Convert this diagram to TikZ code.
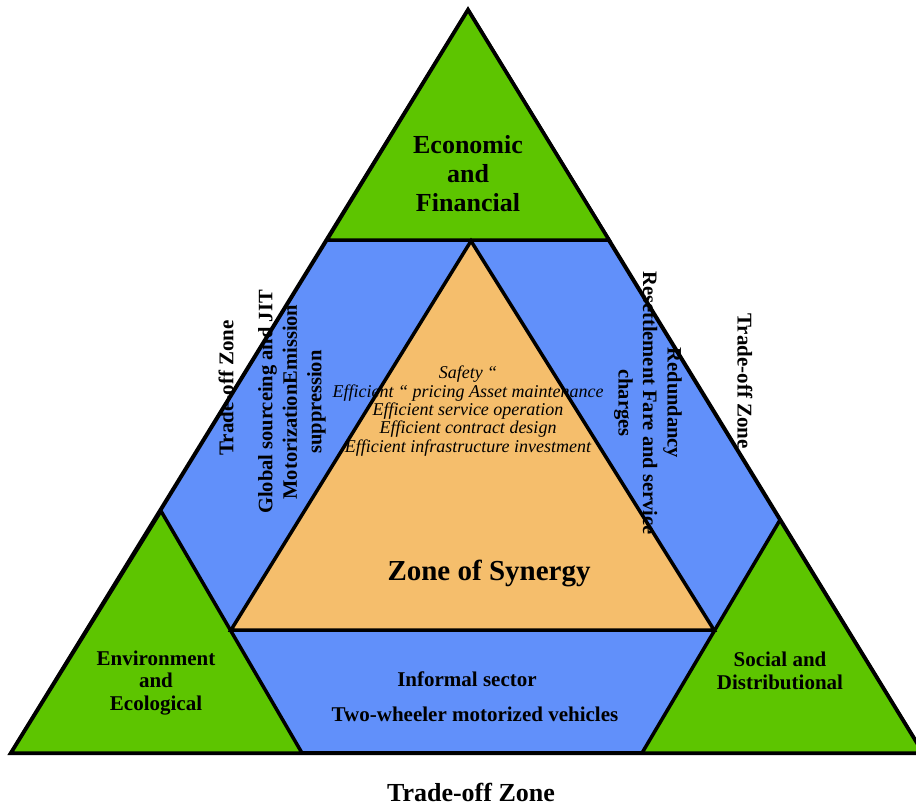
\documentclass[tikz,border=0pt]{standalone}
\usepackage{fontspec}
\setmainfont{Liberation Serif}
\usepackage{tikz}
\usetikzlibrary{positioning}
\definecolor{zonegreen}{RGB}{93,197,0}
\definecolor{zoneblue}{RGB}{97,144,250}
\definecolor{zoneorange}{RGB}{245,190,108}
\tikzstyle{zone} = [draw=black, line width=3.5pt, line join=miter]
\tikzstyle{bigtext} = [align=center, font=\bfseries\fontsize{26}{29}\selectfont]
\tikzstyle{zonetext} = [align=center, font=\bfseries\fontsize{21}{22.5}\selectfont]
\tikzstyle{sidetext} = [align=center, font=\bfseries\fontsize{20.5}{24.5}\selectfont]
\tikzstyle{listtext} = [align=center, font=\itshape\fontsize{18}{18.4}\selectfont]

\begin{document}
\begin{tikzpicture}[x=1pt,y=-1pt]
\useasboundingbox (0,0) rectangle (916,806);
% corners
\coordinate (apex) at (468,10);
\coordinate (bl) at (11,753);
\coordinate (br) at (923,753);
\coordinate (ecoL) at (327,240);
\coordinate (ecoR) at (609,240);
\coordinate (envTop) at (161,511);
\coordinate (envR) at (302,753);
\coordinate (socTop) at (780,520);
\coordinate (socL) at (642,753);
\coordinate (synTop) at (471,241);
\coordinate (synL) at (231,630);
\coordinate (synR) at (714,630);
% zones
\filldraw[zone, fill=zoneblue, line width=4pt] (apex) -- (bl) -- (br) -- cycle;
\filldraw[zone, fill=zonegreen] (apex) -- (ecoL) -- (ecoR) -- cycle;
\filldraw[zone, fill=zonegreen] (envTop) -- (bl) -- (envR) -- cycle;
\filldraw[zone, fill=zonegreen] (socTop) -- (socL) -- (br) -- cycle;
\filldraw[zone, fill=zoneorange] (synTop) -- (synL) -- (synR) -- cycle;
% labels
\node [bigtext] (eco) at (468,174) {Economic\\and\\Financial};
\node [zonetext] (env) at (156,683) {Environment\\and\\Ecological};
\node [zonetext] (soc) at (780,671) {Social and\\Distributional};
\node [font=\bfseries\fontsize{29}{32}\selectfont] (synergy) at (489,573) {Zone of Synergy};
\node [listtext] (measures) at (468,411) {Safety “\\Efficient “ pricing Asset maintenance\\Efficient service operation\\Efficient contract design\\Efficient infrastructure investment};
\node [sidetext, rotate=90] (leftband) at (292,402) {Global sourceing and JIT\\MotorizationEmission\\suppression};
\node [sidetext, rotate=-90] (rightband) at (648,403) {Redundancy\\Resettlement Fare and service\\charges};
\node [zonetext] (informal) at (467,679) {Informal sector};
\node [zonetext] (twowheel) at (475,714) {Two-wheeler motorized vehicles};
\node [zonetext, rotate=90] (tradeL) at (226,388) {Trade-off Zone};
\node [zonetext, rotate=-90] (tradeR) at (745,381) {Trade-off Zone};
\node [bigtext] (tradeB) at (471,792) {Trade-off Zone};
\end{tikzpicture}
\end{document}
